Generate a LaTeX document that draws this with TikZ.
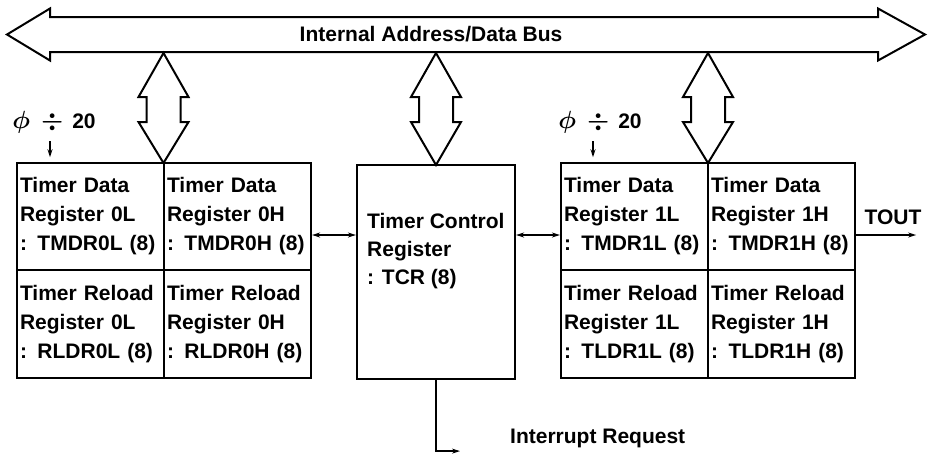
\documentclass[tikz,border=0pt]{standalone}
\usepackage{amsmath}
\usepackage{fontspec}
\setmainfont{Liberation Sans}
\usetikzlibrary{arrows.meta}

\newcommand{\clkdiv}{{\fontsize{25}{28}\selectfont$\boldsymbol{\phi}$\hspace{11pt}$\boldsymbol{\div}$}\hspace{9pt}20}

\tikzset{
  cell/.style={draw, line width=2.2pt, minimum width=147pt, minimum height=107.5pt,
    text width=141pt, inner xsep=3pt, align=left, font=\fontsize{21}{29}\selectfont\bfseries},
  lbl/.style={inner sep=0pt, font=\fontsize{21}{28}\selectfont\bfseries},
  port/.style={line width=2pt, line join=miter},
  sig/.style={line width=1.3pt, -{Stealth[length=8pt,width=5pt]}},
  dsig/.style={line width=1.3pt, {Stealth[length=8pt,width=5pt]}-{Stealth[length=8pt,width=5pt]}}
}

\begin{document}
\begin{tikzpicture}[x=1pt, y=-1pt]
        \useasboundingbox (0,0) rectangle (929,459);

        % Bus intern
        \draw[port] (7,34.5) -- (50,8.5) -- (50,17) -- (878,17) -- (878,8.5) -- (925,34.5)
                    -- (878,60.5) -- (878,52) -- (50,52) -- (50,60.5) -- cycle;
        \node[lbl] (bus) at (431,34) {Internal Address/Data Bus};

        % Fletxes dobles cap al bus
        \foreach \cx/\by in {163.5/163, 436/165, 708/163}
            \draw[port] (\cx,53) -- (\cx+25,97) -- (\cx+17,97) -- (\cx+17,122) -- (\cx+25,122)
                        -- (\cx,\by) -- (\cx-25,122) -- (\cx-17,122) -- (\cx-17,97) -- (\cx-25,97) -- cycle;

        % Timer 0
        \node[cell] (tmdr0l) at (90.5,216.5) {Timer Data\\Register 0L\\: TMDR0L (8)};
        \node[cell] (tmdr0h) at (237.5,216.5) {Timer Data\\Register 0H\\: TMDR0H (8)};
        \node[cell] (rldr0l) at (90.5,324) {Timer Reload\\Register 0L\\: RLDR0L (8)};
        \node[cell] (rldr0h) at (237.5,324) {Timer Reload\\Register 0H\\: RLDR0H (8)};

        % Control
        \node[draw, line width=2.2pt, minimum width=158pt, minimum height=214pt] (tcr) at (436,272) {};
        \node[lbl, anchor=west, align=left] (tcrtxt) at (367,251) {Timer Control\\Register\\: TCR (8)};

        % Timer 1
        \node[cell] (tmdr1l) at (634.5,216.5) {Timer Data\\Register 1L\\: TMDR1L (8)};
        \node[cell] (tmdr1h) at (781.5,216.5) {Timer Data\\Register 1H\\: TMDR1H (8)};
        \node[cell] (tldr1l) at (634.5,324) {Timer Reload\\Register 1L\\: TLDR1L (8)};
        \node[cell] (tldr1h) at (781.5,324) {Timer Reload\\Register 1H\\: TLDR1H (8)};

        % Rellotges
        \node[lbl] (phi0) at (54,122) {\clkdiv};
        \node[lbl] (phi1) at (600,122) {\clkdiv};
        \draw[sig] ([xshift=-4pt, yshift=-8pt]phi0.south) -- ++(0,16);
        \draw[sig] ([xshift=-7pt, yshift=-8pt]phi1.south) -- ++(0,16);

        % Connexions
        \draw[dsig] ([yshift=-18.5pt]tmdr0h.east) -- ([yshift=-18.5pt]tmdr0h.east -| tcr.west);
        \draw[dsig] ([yshift=-18.5pt]tmdr1l.west -| tcr.east) -- ([yshift=-18.5pt]tmdr1l.west);
        \draw[sig] ([yshift=-18.5pt]tmdr1h.east) -- ++(60,0);
        \node[lbl] (tout) at (893,217) {TOUT};
        \draw[sig] (tcr.south) -- ++(0,71) -- ++(24,0);
        \node[lbl, anchor=west] (irq) at (510,438) {Interrupt Request};
    \end{tikzpicture}
\end{document}
